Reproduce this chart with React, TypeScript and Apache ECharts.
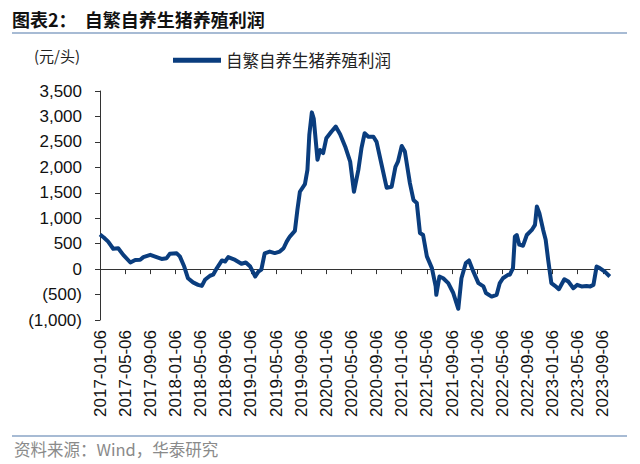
import React, { useEffect, useRef } from "react";
import * as echarts from "echarts";

const seriesName = "自繁自养生猪养殖利润";

const dates = [
  "2017-01-06", "2017-01-24", "2017-02-15", "2017-03-09", "2017-04-03", "2017-04-27",
  "2017-06-01", "2017-06-24", "2017-07-18", "2017-08-03", "2017-09-06", "2017-10-06",
  "2017-10-30", "2017-11-24", "2017-12-09", "2018-01-12", "2018-01-27", "2018-02-18",
  "2018-03-06", "2018-03-30", "2018-04-24", "2018-05-12", "2018-05-27", "2018-06-21",
  "2018-07-06", "2018-07-24", "2018-08-18", "2018-09-03", "2018-09-18", "2018-10-21",
  "2018-11-21", "2018-12-12", "2019-01-03", "2019-01-27", "2019-02-12", "2019-02-26",
  "2019-03-12", "2019-04-06", "2019-04-30", "2019-05-24", "2019-06-12", "2019-06-27",
  "2019-07-12", "2019-08-06", "2019-08-18", "2019-08-30", "2019-09-24", "2019-10-06",
  "2019-10-15", "2019-10-27", "2019-11-06", "2019-11-24", "2019-12-06", "2019-12-21",
  "2020-01-06", "2020-01-30", "2020-02-21", "2020-03-12", "2020-04-06", "2020-04-30",
  "2020-05-18", "2020-06-09", "2020-06-24", "2020-07-09", "2020-07-27", "2020-08-21",
  "2020-09-06", "2020-09-30", "2020-10-24", "2020-11-18", "2020-12-06", "2020-12-18",
  "2021-01-06", "2021-01-21", "2021-02-15", "2021-03-02", "2021-03-18", "2021-04-03",
  "2021-04-18", "2021-05-06", "2021-05-30", "2021-06-18", "2021-06-21", "2021-07-06",
  "2021-07-24", "2021-08-18", "2021-09-12", "2021-10-06", "2021-10-21", "2021-11-12",
  "2021-11-27", "2021-12-18", "2022-01-12", "2022-02-06", "2022-02-18", "2022-03-15",
  "2022-04-09", "2022-04-24", "2022-05-09", "2022-06-03", "2022-06-12", "2022-06-27",
  "2022-07-06", "2022-07-15", "2022-07-27", "2022-08-15", "2022-09-03", "2022-09-27",
  "2022-10-12", "2022-10-21", "2022-11-03", "2022-11-21", "2022-12-03", "2022-12-15",
  "2022-12-30", "2023-01-24", "2023-02-06", "2023-03-02", "2023-03-21", "2023-04-15",
  "2023-05-03", "2023-05-24", "2023-06-18", "2023-07-06", "2023-07-21", "2023-08-06",
  "2023-08-21", "2023-09-15", "2023-10-09",
];

const values = [
  680, 620, 540, 400, 410, 280,
  130, 180, 185, 235, 280, 235,
  200, 215, 300, 310, 250, 50,
  -180, -260, -310, -330, -210, -130,
  -110, 20, 170, 150, 235, 180,
  105, 130, 50, -145, -50, -10,
  310, 345, 315, 345, 410, 540,
  640, 750, 1160, 1520, 1670, 1950,
  2640, 3080, 2960, 2150, 2340, 2280,
  2570, 2700, 2800, 2650, 2410, 2110,
  1520, 1950, 2380, 2670, 2600, 2600,
  2500, 2050, 1600, 1620, 2010, 2110,
  2420, 2310, 1690, 1360, 1300, 710,
  670, 250, 20, -340, -505, -145,
  -180, -275, -470, -780, -180, 120,
  170, -50, -275, -340, -470, -540,
  -505, -275, -180, -112, -110, 20,
  640, 670, 480, 460, 670, 770,
  870, 1230, 1100, 770, 575, 180,
  -275, -350, -395, -200, -245, -375,
  -310, -340, -330, -340, -310, 50,
  20, -50, -145,
];

const tickLabels = [
  "2017-01-06", "2017-05-06", "2017-09-06", "2018-01-06", "2018-05-06", "2018-09-06",
  "2019-01-06", "2019-05-06", "2019-09-06", "2020-01-06", "2020-05-06", "2020-09-06",
  "2021-01-06", "2021-05-06", "2021-09-06", "2022-01-06", "2022-05-06", "2022-09-06",
  "2023-01-06", "2023-05-06", "2023-09-06",
];

const axisEnd = "2023-10-10";

// months elapsed since 2017-01-06
function monthsSince(s: string): number {
  const [y, m, d] = s.split("-").map(Number);
  return (y - 2017) * 12 + (m - 1) + (d - 6) / 30;
}

function fmtNum(v: number): string {
  const s = Math.abs(v).toLocaleString("en-US");
  return v < 0 ? `(${s})` : s;
}

export default function App() {
  const ref = useRef<HTMLDivElement>(null);

  useEffect(() => {
    if (!ref.current) return;
    const chart = echarts.init(ref.current, undefined, { renderer: "svg" });
    const tickPos = tickLabels.map(monthsSince);
    const xMax = monthsSince(axisEnd);
    const labelFor = (v: number) => {
      const i = tickPos.findIndex((p) => Math.abs(p - v) < 0.01);
      return i >= 0 ? tickLabels[i] : "";
    };
    const numFont = "'Liberation Sans', Arial, sans-serif";
    const cjkFont = "'Noto Sans CJK SC', 'Noto Sans', sans-serif";
    const lineColor = "#0a3d7e";
    const ruleColor = "#8aa4c6";

    chart.setOption({
      animation: false,
      backgroundColor: "#ffffff",
      grid: {
        left: 100,
        right: 30,
        top: 91,
        bottom: 144,
        containLabel: false,
        outerBoundsMode: "none",
      },
      legend: {
        show: true,
        left: 168,
        top: 47,
        itemWidth: 48,
        itemHeight: 5,
        itemGap: 6,
        icon: "rect",
        textStyle: { fontFamily: cjkFont, fontSize: 16.5, color: "#222" },
        data: [{ name: seriesName, itemStyle: { color: lineColor } }],
      },
      graphic: [
        {
          type: "text",
          left: 12,
          top: 10,
          style: {
            text: "图表2：  自繁自养生猪养殖利润",
            font: `bold 18px ${cjkFont}`,
            fill: "#111",
          },
        },
        {
          type: "line",
          shape: { x1: 12, y1: 33, x2: 627, y2: 33 },
          style: { stroke: ruleColor, lineWidth: 1.5 },
        },
        {
          type: "text",
          left: 34,
          top: 48,
          style: { text: "(元/头)", font: `15px ${cjkFont}`, fill: "#222" },
        },
        {
          type: "line",
          shape: { x1: 12, y1: 436, x2: 627, y2: 436 },
          style: { stroke: ruleColor, lineWidth: 1.5 },
        },
        {
          type: "text",
          left: 14,
          top: 441,
          style: {
            text: "资料来源：Wind，华泰研究",
            font: `16.5px ${cjkFont}`,
            fill: "#8a8a8a",
          },
        },
      ],
      xAxis: [
        {
          type: "value",
          min: 0,
          max: xMax,
          interval: 4,
          axisLine: { show: true, onZero: true, lineStyle: { color: "#333", width: 1 } },
          axisTick: {
            show: true,
            length: 5,
            inside: false,
            customValues: tickPos,
            lineStyle: { color: "#333" },
          },
          axisLabel: { show: false },
          splitLine: { show: false },
        },
        {
          type: "value",
          position: "bottom",
          min: 0,
          max: xMax,
          interval: 4,
          axisLine: { show: false, onZero: false },
          axisTick: { show: false },
          splitLine: { show: false },
          axisLabel: {
            show: true,
            rotate: 90,
            margin: 10,
            customValues: tickPos,
            fontFamily: numFont,
            fontSize: 17,
            color: "#111",
            formatter: (v: number) => labelFor(v),
          },
        },
      ],
      yAxis: {
        type: "value",
        min: -1000,
        max: 3500,
        interval: 500,
        axisLine: { show: true, lineStyle: { color: "#333", width: 1 } },
        axisTick: { show: true, length: 5, inside: false, lineStyle: { color: "#333" } },
        splitLine: { show: false },
        axisLabel: {
          margin: 18,
          fontFamily: numFont,
          fontSize: 17,
          color: "#111",
          formatter: (v: number) => fmtNum(v),
        },
      },
      series: [
        {
          name: seriesName,
          type: "line",
          xAxisIndex: 0,
          showSymbol: false,
          symbol: "none",
          lineStyle: { color: lineColor, width: 4, join: "round" },
          itemStyle: { color: lineColor },
          data: dates.map((d, i) => [monthsSince(d), values[i]]),
        },
      ],
    });

    return () => chart.dispose();
  }, []);

  return <div ref={ref} style={{ width: 640, height: 464, position: "absolute", left: 0, top: 0 }} />;
}
